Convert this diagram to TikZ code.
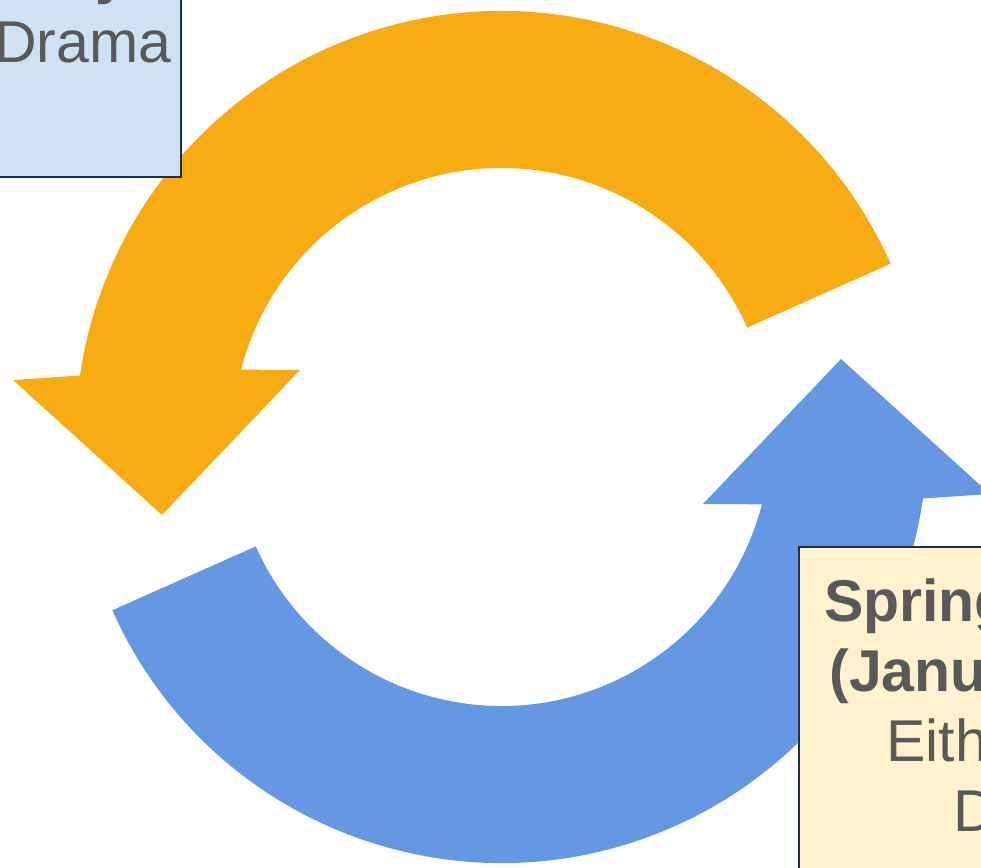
\documentclass[tikz,border=0pt]{standalone}
\usepackage{fontspec}
\setmainfont{Liberation Sans}
\definecolor{arrorange}{RGB}{248,172,20}
\definecolor{arrblue}{RGB}{101,152,226}
\definecolor{boxblue}{RGB}{207,226,243}
\definecolor{boxyellow}{RGB}{255,242,204}
\definecolor{boxline}{RGB}{28,45,92}
\definecolor{txtgray}{RGB}{89,89,89}
\begin{document}
\begin{tikzpicture}[x=0.5pt,y=0.5pt,
  box/.style={draw=boxline,line width=1pt,inner sep=0pt},
  lbl/.style={inner sep=0pt,anchor=base west,text=txtgray,font=\fontsize{29.5pt}{35pt}\selectfont},
  lblb/.style={lbl,font=\fontsize{29.5pt}{35pt}\selectfont\bfseries}]
\useasboundingbox (0,0) rectangle (981,868);
\clip (0,0) rectangle (981,868);
\fill[white] (0,0) rectangle (981,868);
% circular arrows around centre (501.5,431)
\begin{scope}[shift={(501.5,431)}]
  \fill[arrorange] (24:213pt) arc[start angle=24,end angle=171.7,radius=213pt]
    -- (-488.5,57) -- (-339.5,-78) -- (-201.5,67)
    -- (165.5:134.5pt) arc[start angle=165.5,end angle=24,radius=134.5pt] -- cycle;
  \fill[arrblue] (204:213pt) arc[start angle=204,end angle=351.7,radius=213pt]
    -- (488.5,-57) -- (339.5,78) -- (201.5,-67)
    -- (345.5:134.5pt) arc[start angle=345.5,end angle=204,radius=134.5pt] -- cycle;
\end{scope}
% boxes
\node[box,fill=boxblue,anchor=south east,minimum width=125pt,minimum height=125pt] (tlbox) at (182,690) {};
\node[box,fill=boxyellow,anchor=north west,minimum width=150pt,minimum height=200pt] (brbox) at (798,322) {};
% texts
\node[lblb] (tly) at (95,875) {y};
\node[lbl] (tldrama) at (-6,805) {Drama};
\node[lblb] (brspring) at (823.6,246) {Spring};
\node[lblb] (brjan) at (829,176) {(January};
\node[lbl] (breither) at (886,106) {Either};
\node[lbl] (brdrama) at (953,36) {Drama};
\end{tikzpicture}
\end{document}
